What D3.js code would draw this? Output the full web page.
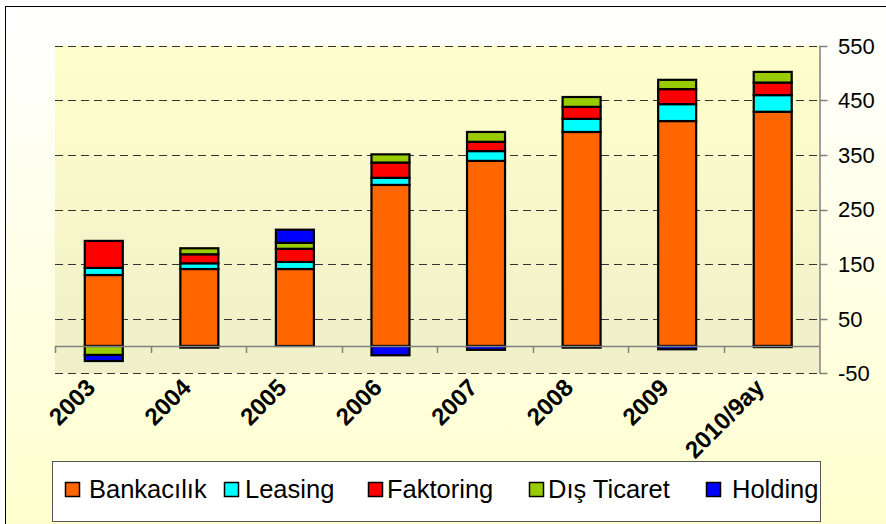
<!DOCTYPE html>
<html>
<head>
<meta charset="utf-8">
<script src="https://cdn.jsdelivr.net/npm/d3@7"></script>
<style>
  html, body { margin: 0; padding: 0; background: #fff; }
  svg { display: block; font-family: "Liberation Sans", Arial, sans-serif; }
</style>
</head>
<body>
<div id="chart"></div>
<script>
// data
const years = ["2003", "2004", "2005", "2006", "2007", "2008", "2009", "2010/9ay"];
const seriesNames = ["Bankacılık", "Leasing", "Faktoring", "Dış Ticaret", "Holding"];
const bankacilik = [130, 141, 141, 295, 339, 392, 412, 429];
const leasing    = [13, 10.5, 13, 13, 18, 24, 31, 30.5];
const faktoring  = [49.5, 16.5, 24, 28, 17, 22, 27.5, 23];
const disTicaret = [-16.5, 11, 11, 15, 18, 18, 17, 19.5];
const holding    = [-11, -3, 24, -17, -7, -3, -6, -2];
const yTicks = [550, 450, 350, 250, 150, 50, -50];
const colors = ["#FF6600", "#00FFFF", "#FF0000", "#99CC00", "#0000FF"];

const width = 886, height = 524;
const plot = { left: 55, right: 819.5, top: 45.7, bottom: 373.3 };

const svg = d3.select("#chart").append("svg")
    .attr("width", width)
    .attr("height", height);

// gradients
const defs = svg.append("defs");
const outerGrad = defs.append("linearGradient")
    .attr("id", "outerGrad").attr("x1", 0).attr("y1", 0).attr("x2", 0).attr("y2", 1);
outerGrad.append("stop").attr("offset", "0%").attr("stop-color", "#FFFFFF");
outerGrad.append("stop").attr("offset", "100%").attr("stop-color", "#FFFFCC");
const plotGrad = defs.append("linearGradient")
    .attr("id", "plotGrad").attr("x1", 0).attr("y1", 0).attr("x2", 0).attr("y2", 1);
plotGrad.append("stop").attr("offset", "0%").attr("stop-color", "#FFFFCC");
plotGrad.append("stop").attr("offset", "100%").attr("stop-color", "#EFEFC9");

// chart area background + frame
svg.append("rect")
    .attr("x", 5.5).attr("y", 6.5)
    .attr("width", 900).attr("height", 540)
    .attr("fill", "url(#outerGrad)")
    .attr("stroke", "#000").attr("stroke-width", 1);

// plot area
svg.append("rect")
    .attr("x", plot.left).attr("y", plot.top)
    .attr("width", plot.right - plot.left).attr("height", plot.bottom - plot.top)
    .attr("fill", "url(#plotGrad)");

const x = d3.scaleBand()
    .domain(years)
    .range([plot.left, plot.right])
    .paddingInner(0).paddingOuter(0);

const y = d3.scaleLinear()
    .domain([-50, 550])
    .range([plot.bottom, plot.top]);

// gridlines
svg.append("g")
    .selectAll("line")
    .data(yTicks)
    .join("line")
    .attr("x1", plot.left).attr("x2", plot.right)
    .attr("y1", d => Math.round(y(d)) + 0.5)
    .attr("y2", d => Math.round(y(d)) + 0.5)
    .attr("stroke", "#333")
    .attr("stroke-width", 1)
    .attr("stroke-dasharray", "8,5");

// stacked bars
const table = years.map((yr, i) => ({
    year: yr,
    "Bankacılık": bankacilik[i],
    "Leasing": leasing[i],
    "Faktoring": faktoring[i],
    "Dış Ticaret": disTicaret[i],
    "Holding": holding[i]
}));

const stacked = d3.stack()
    .keys(seriesNames)
    .offset(d3.stackOffsetDiverging)(table);

const barW = 38;

svg.append("g")
    .selectAll("g")
    .data(stacked)
    .join("g")
    .attr("fill", (d, i) => colors[i])
    .selectAll("rect")
    .data(d => d)
    .join("rect")
    .attr("x", d => x(d.data.year) + x.bandwidth() / 2 - barW / 2 + 1)
    .attr("width", barW)
    .attr("y", d => y(Math.max(d[0], d[1])))
    .attr("height", d => Math.abs(y(d[0]) - y(d[1])))
    .attr("stroke", "#000")
    .attr("stroke-width", 2.2);

// x axis (zero line) with category ticks
const xAxis = svg.append("g");
xAxis.append("line")
    .attr("x1", plot.left).attr("x2", plot.right)
    .attr("y1", Math.round(y(0)) + 0.5).attr("y2", Math.round(y(0)) + 0.5)
    .attr("stroke", "#808080").attr("stroke-width", 1.5);
xAxis.selectAll("line.tick")
    .data(years.map(d => x(d)))
    .join("line")
    .attr("class", "tick")
    .attr("x1", d => Math.round(d) + 0.5).attr("x2", d => Math.round(d) + 0.5)
    .attr("y1", y(0)).attr("y2", y(0) + 7)
    .attr("stroke", "#808080").attr("stroke-width", 1.5);

// category labels, rotated
svg.append("g")
    .selectAll("text")
    .data(years)
    .join("text")
    .attr("transform", d => `translate(${x(d) + x.bandwidth() / 2 - 6},389) rotate(-45)`)
    .attr("text-anchor", "end")
    .style("font-size", "24px")
    .style("font-weight", "bold")
    .text(d => d);

// y axis on the right
const yAxis = svg.append("g");
yAxis.append("line")
    .attr("x1", plot.right + 0.5).attr("x2", plot.right + 0.5)
    .attr("y1", plot.top).attr("y2", plot.bottom)
    .attr("stroke", "#808080").attr("stroke-width", 1.5);
yAxis.selectAll("line.tick")
    .data(yTicks)
    .join("line")
    .attr("class", "tick")
    .attr("x1", plot.right).attr("x2", plot.right + 8)
    .attr("y1", d => Math.round(y(d)) + 0.5).attr("y2", d => Math.round(y(d)) + 0.5)
    .attr("stroke", "#808080").attr("stroke-width", 1.5);
yAxis.selectAll("text")
    .data(yTicks)
    .join("text")
    .attr("x", 838)
    .attr("y", d => y(d))
    .attr("dy", "0.36em")
    .style("font-size", "22px")
    .text(d => d);

// legend
const legend = svg.append("g");
legend.append("rect")
    .attr("x", 52.5).attr("y", 461.5)
    .attr("width", 768).attr("height", 60)
    .attr("fill", "#fff")
    .attr("stroke", "#555").attr("stroke-width", 1);

const swatchX = [65, 224, 368, 529, 706];
const textX = [89, 245, 387, 548, 732];

const items = legend.selectAll("g.item")
    .data(seriesNames)
    .join("g")
    .attr("class", "item");
items.append("rect")
    .attr("x", (d, i) => swatchX[i] + 0.5)
    .attr("y", 482.5)
    .attr("width", 14).attr("height", 14)
    .attr("fill", (d, i) => colors[i])
    .attr("stroke", "#000").attr("stroke-width", 1.5);
items.append("text")
    .attr("x", (d, i) => textX[i])
    .attr("y", 498)
    .style("font-size", "25.5px")
    .text(d => d);
</script>
</body>
</html>
